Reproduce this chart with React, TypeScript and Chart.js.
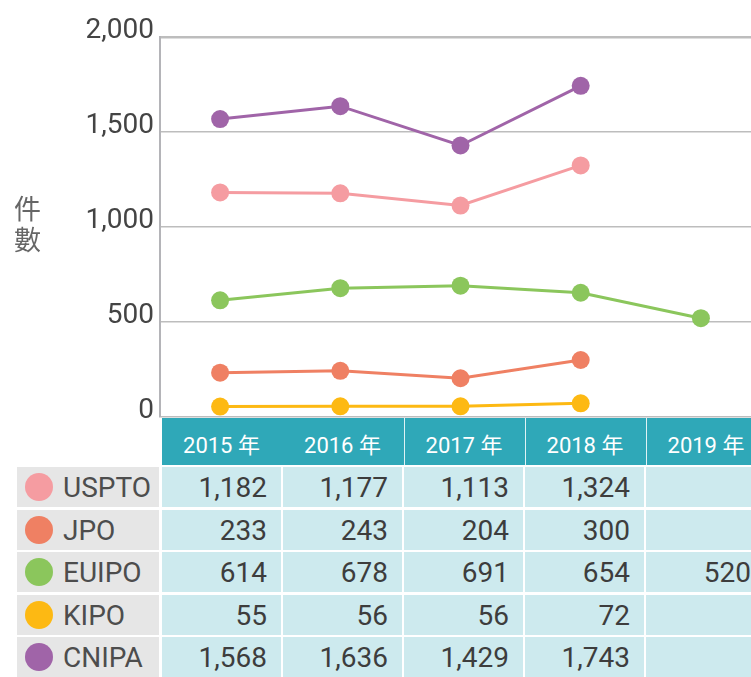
import React, { useEffect, useRef } from "react";
import { Chart, registerables } from "chart.js";

Chart.register(...registerables);

const years = ["2015 年", "2016 年", "2017 年", "2018 年", "2019 年"];
const offices = ["USPTO", "JPO", "EUIPO", "KIPO", "CNIPA"];
const uspto = [1182, 1177, 1113, 1324, null];
const jpo = [233, 243, 204, 300, null];
const euipo = [614, 678, 691, 654, 520];
const kipo = [55, 56, 56, 72, null];
const cnipa = [1568, 1636, 1429, 1743, null];
const colors = ["#f59ca1", "#ef8063", "#8bc65c", "#fdb913", "#a064a8"];
const yTicks = [0, 500, 1000, 1500, 2000];

const series = [uspto, jpo, euipo, kipo, cnipa];

const NUM_FONT = "Roboto, 'Noto Sans CJK TC', sans-serif";

export default function App() {
  const ref = useRef<HTMLCanvasElement | null>(null);

  useEffect(() => {
    if (!ref.current) return;
    const chart = new Chart(ref.current, {
      type: "line",
      data: {
        labels: years,
        datasets: offices.map((name, i) => ({
          label: name,
          data: series[i],
          borderColor: colors[i],
          backgroundColor: colors[i],
          pointBackgroundColor: colors[i],
          pointBorderWidth: 0,
          pointRadius: 9,
          borderWidth: 3,
          tension: 0,
        })),
      },
      options: {
        responsive: false,
        animation: false,
        layout: { padding: { top: 37, bottom: 23, left: 0, right: 5 } },
        plugins: { legend: { display: false }, tooltip: { enabled: false } },
        scales: {
          x: { type: "category", display: false, offset: true },
          y: {
            min: yTicks[0],
            max: yTicks[yTicks.length - 1],
            position: "left",
            afterFit: (s: any) => {
              s.width = 160;
            },
            ticks: {
              stepSize: 500,
              padding: 6,
              color: "#444",
              font: { family: NUM_FONT, size: 28 },
              labelOffset: -6,
              callback: (v: any) => Number(v).toLocaleString("en-US"),
            },
            grid: {
              color: "#bdbdbd",
              lineWidth: (ctx: any) => (ctx.tick && ctx.tick.value === 2000 ? 2.5 : 1.5),
              drawTicks: false,
            },
            border: { display: true, color: "#b4b4b8", width: 2 },
          },
        },
      },
    });
    return () => chart.destroy();
  }, []);

  const colLeft = (i: number) => 162 + i * 121;
  const rowTop = (r: number) => 467 + r * 42.5;

  return (
    <div
      style={{
        position: "absolute",
        left: 0,
        top: 0,
        width: 751,
        height: 677,
        overflow: "hidden",
        background: "#fff",
      }}
    >
      <canvas
        ref={ref}
        width={770}
        height={440}
        style={{ position: "absolute", left: 0, top: 0, width: 770, height: 440 }}
      />
      <div
        style={{
          position: "absolute",
          left: 14,
          top: 192,
          fontFamily: "'Noto Sans CJK TC', sans-serif",
          fontSize: 27,
          lineHeight: "31px",
          color: "#666",
        }}
      >
        件<br />數
      </div>
      {/* header */}
      <div
        style={{
          position: "absolute",
          left: 162,
          top: 418,
          width: 605,
          height: 47,
          background: "#2fa8b8",
        }}
      />
      {years.map((y, i) => (
        <div
          key={y}
          style={{
            position: "absolute",
            left: colLeft(i),
            top: 418,
            width: 119,
            height: 47,
            display: "flex",
            alignItems: "center",
            justifyContent: "center",
            color: "#fff",
            fontFamily: NUM_FONT,
            fontSize: 22,
            paddingTop: 3,
            boxSizing: "border-box",
            borderLeft: i >= 2 ? "1px solid rgba(255,255,255,0.85)" : "none",
          }}
        >
          {y}
        </div>
      ))}
      {offices.map((name, r) => (
        <React.Fragment key={name}>
          <div
            style={{
              position: "absolute",
              left: 17,
              top: rowTop(r),
              width: 142,
              height: 40,
              background: "#e6e6e6",
            }}
          >
            <div
              style={{
                position: "absolute",
                left: 8,
                top: 6,
                width: 28,
                height: 28,
                borderRadius: "50%",
                background: colors[r],
              }}
            />
            <div
              style={{
                position: "absolute",
                left: 46,
                top: 0,
                height: 40,
                lineHeight: "42px",
                fontFamily: NUM_FONT,
                fontSize: 28,
                color: "#4d4d4d",
              }}
            >
              {name}
            </div>
          </div>
          {years.map((y, i) => {
            const v = series[r][i];
            return (
              <div
                key={y}
                style={{
                  position: "absolute",
                  left: colLeft(i),
                  top: rowTop(r),
                  width: 119,
                  height: 40,
                  background: "#cdeaee",
                  boxSizing: "border-box",
                  paddingRight: 14,
                  textAlign: "right",
                  lineHeight: "42px",
                  fontFamily: NUM_FONT,
                  fontSize: 28,
                  color: "#3d3d3d",
                }}
              >
                {v == null ? "" : v.toLocaleString("en-US")}
              </div>
            );
          })}
        </React.Fragment>
      ))}
    </div>
  );
}
